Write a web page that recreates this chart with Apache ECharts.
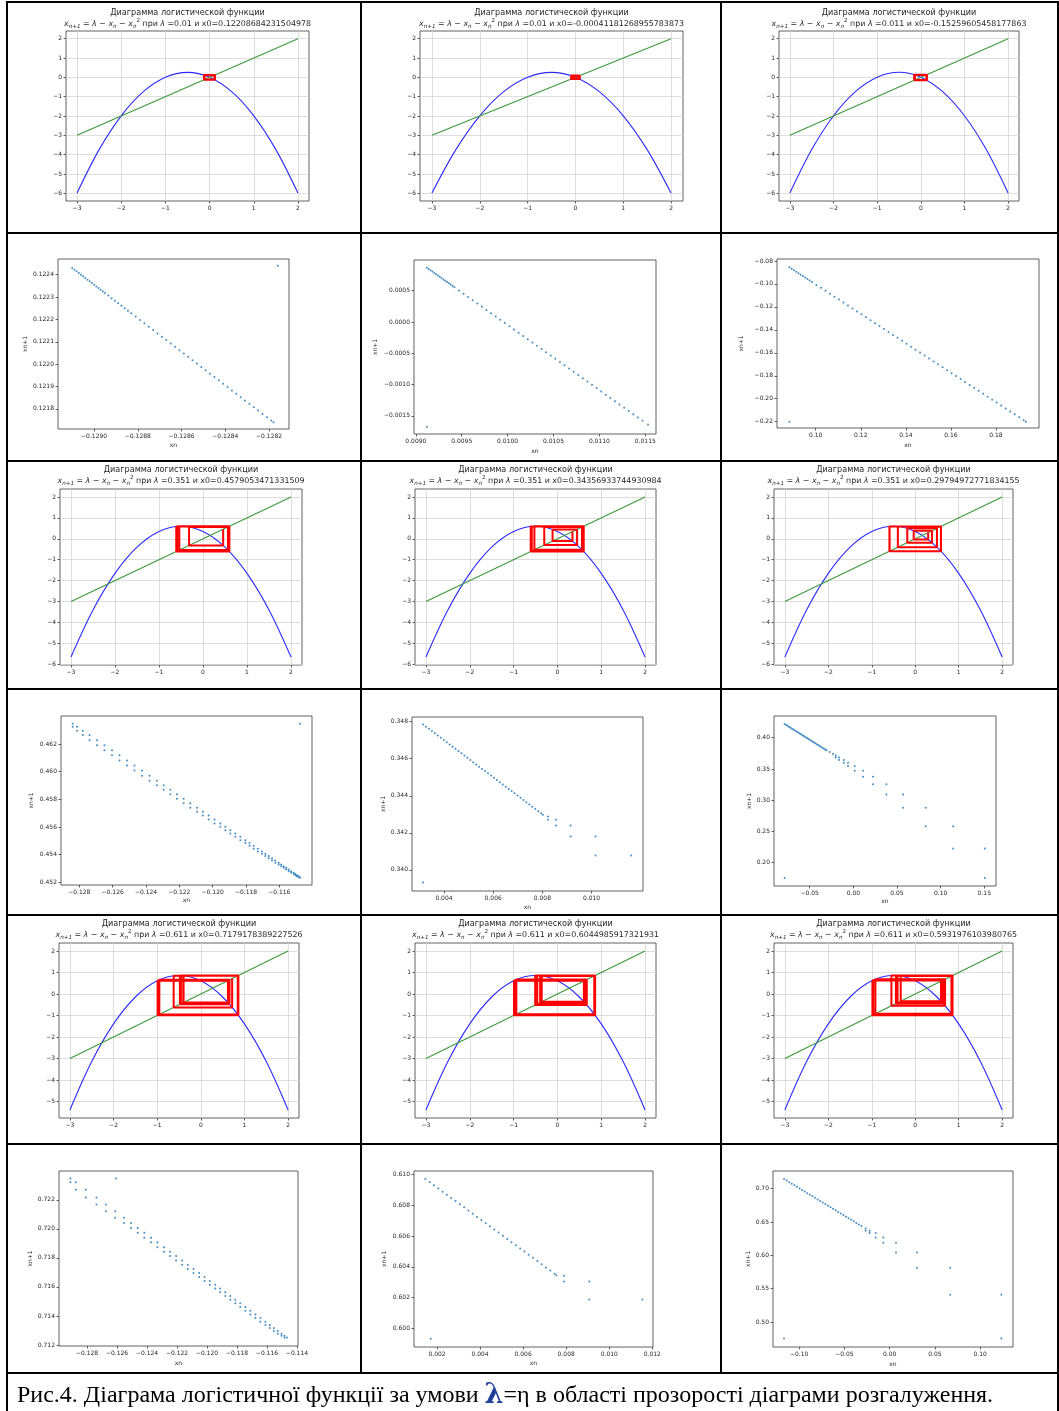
<!DOCTYPE html>
<html>
<head>
<meta charset="utf-8">
<script src="https://cdn.jsdelivr.net/npm/echarts@6/dist/echarts.min.js"></script>
<style>
  html, body { margin: 0; padding: 0; background: #fff; }
  #main { width: 1059px; height: 1411px; }
</style>
</head>
<body>
<div id="main"></div>
<script>
// ---- parabola panels: y = λ - x - x², diagonal y = x, cobweb orbits ----
const parabolaX = [-3, -2.5, -2, -1.5, -1, -0.5, 0, 0.5, 1, 1.5, 2];
const curveL001  = [-5.99, -3.74, -1.99, -0.74, 0.01, 0.26, 0.01, -0.74, -1.99, -3.74, -5.99];
const curveL0011 = [-5.989, -3.739, -1.989, -0.739, 0.011, 0.261, 0.011, -0.739, -1.989, -3.739, -5.989];
const curveL0351 = [-5.649, -3.399, -1.649, -0.399, 0.351, 0.601, 0.351, -0.399, -1.649, -3.399, -5.649];
const curveL0611 = [-5.389, -3.139, -1.389, -0.139, 0.611, 0.861, 0.611, -0.139, -1.389, -3.139, -5.389];
const diagonalX = [-3, 2];

const orbitA = [0.12209, -0.12700, 0.12087, -0.12548, 0.11974, -0.12408, 0.11868, -0.12277, 0.11770, -0.12155, 0.11678, -0.12042, 0.11592, -0.11936, 0.11511, -0.11836, 0.11435, -0.11743, 0.11364, -0.11655, 0.11297];
const orbitB = [-0.00041, 0.01041, -0.00090, 0.01090, -0.00300, 0.01300, -0.01000, 0.02000, -0.03000, 0.04000, -0.05500, 0.06500, -0.07500, 0.08500, -0.08800, 0.09200, -0.09000, 0.09300];
const orbitC = [-0.15260, 0.14031, -0.14900, 0.13780, -0.14579, 0.13554, -0.14291, 0.13349, -0.14031, 0.13162, -0.13794, 0.12991, -0.13579, 0.12835, -0.13382];
const orbitD = [0.45791, -0.31657, 0.56735, -0.53824, 0.59954, -0.60799, 0.58934, -0.58566, 0.59366, -0.59509, 0.59196, -0.59138];
const orbitE = [0.34357, -0.11061, 0.44938, -0.30032, 0.56113, -0.52500, 0.60037, -0.60981, 0.58894, -0.58479, 0.59381, -0.59542, 0.59190];
const orbitF = [0.29795, -0.03572, 0.38545, -0.18302, 0.50052, -0.40004, 0.59101, -0.58930, 0.59303, -0.59371, 0.59222, -0.59194];
const orbitG = [0.71792, -0.62233, 0.84604, -0.95082, 0.65776, -0.47941, 0.86058, -0.99018, 0.62072, -0.39501, 0.84998, -0.96145, 0.64806, -0.45704, 0.85915, -0.98629, 0.62452, -0.40354, 0.85170, -0.96609, 0.64376];
const orbitH = [0.60450, -0.35892, 0.84110, -0.93755, 0.66955, -0.50685, 0.86095, -0.99118, 0.61974, -0.39282, 0.84951, -0.96018, 0.64923, -0.45973, 0.85938, -0.98691, 0.62392];
const orbitI = [0.59320, -0.33409, 0.83347, -0.91714, 0.68699, -0.54795, 0.85870, -0.98507, 0.62571, -0.40622, 0.85221, -0.96747, 0.64247, -0.44424, 0.85789, -0.98287, 0.62784];

const ticksX  = [-3, -2, -1, 0, 1, 2];
const ticksY8 = [-6, -5, -4, -3, -2, -1, 0, 1, 2];
const ticksY7 = [-5, -4, -3, -2, -1, 0, 1, 2];

// ---- scatter panels: x(n+1) against x(n) ----
const s1X = [-0.129100, -0.129090, -0.129080, -0.129070, -0.129060, -0.129050, -0.129040, -0.129030, -0.129020, -0.129010, -0.129000, -0.128990, -0.128980, -0.128970, -0.128960, -0.128950, -0.128935, -0.128920, -0.128905, -0.128890, -0.128875, -0.128860, -0.128845, -0.128830, -0.128810, -0.128790, -0.128770, -0.128750, -0.128730, -0.128710, -0.128690, -0.128670, -0.128650, -0.128630, -0.128610, -0.128590, -0.128570, -0.128550, -0.128530, -0.128510, -0.128490, -0.128470, -0.128450, -0.128430, -0.128410, -0.128390, -0.128370, -0.128350, -0.128330, -0.128310, -0.128290, -0.128270, -0.128250, -0.128230, -0.128210, -0.128190, -0.128180, -0.128160];
const s1Y = [0.1224300, 0.1224225, 0.1224150, 0.1224075, 0.1224000, 0.1223925, 0.1223850, 0.1223775, 0.1223700, 0.1223625, 0.1223550, 0.1223475, 0.1223400, 0.1223325, 0.1223250, 0.1223175, 0.1223063, 0.1222950, 0.1222838, 0.1222725, 0.1222613, 0.1222500, 0.1222388, 0.1222275, 0.1222125, 0.1221975, 0.1221825, 0.1221675, 0.1221525, 0.1221375, 0.1221225, 0.1221075, 0.1220925, 0.1220775, 0.1220625, 0.1220475, 0.1220325, 0.1220175, 0.1220025, 0.1219875, 0.1219725, 0.1219575, 0.1219425, 0.1219275, 0.1219125, 0.1218975, 0.1218825, 0.1218675, 0.1218525, 0.1218375, 0.1218225, 0.1218075, 0.1217925, 0.1217775, 0.1217625, 0.1217475, 0.1217400, 0.1224400];
const s1XTicks = [-0.1290, -0.1288, -0.1286, -0.1284, -0.1282];
const s1YTicks = [0.1218, 0.1219, 0.1220, 0.1221, 0.1222, 0.1223, 0.1224];

const s2X = [0.00912, 0.00914, 0.00916, 0.00918, 0.00920, 0.00922, 0.00924, 0.00926, 0.00928, 0.00930, 0.00932, 0.00934, 0.00936, 0.00938, 0.00940, 0.00942, 0.00947, 0.00952, 0.00957, 0.00962, 0.00967, 0.00972, 0.00977, 0.00982, 0.00987, 0.00992, 0.00997, 0.01002, 0.01007, 0.01012, 0.01017, 0.01022, 0.01027, 0.01032, 0.01037, 0.01042, 0.01047, 0.01052, 0.01057, 0.01062, 0.01067, 0.01072, 0.01077, 0.01082, 0.01087, 0.01092, 0.01097, 0.01102, 0.01107, 0.01112, 0.01117, 0.01122, 0.01127, 0.01132, 0.01137, 0.01142, 0.01147, 0.01153, 0.00912];
const s2Y = [0.000867, 0.000846, 0.000825, 0.000805, 0.000784, 0.000763, 0.000742, 0.000721, 0.000701, 0.000680, 0.000659, 0.000638, 0.000617, 0.000597, 0.000576, 0.000555, 0.000503, 0.000451, 0.000399, 0.000347, 0.000295, 0.000243, 0.000191, 0.000139, 0.000087, 0.000035, -0.000017, -0.000069, -0.000121, -0.000173, -0.000225, -0.000277, -0.000329, -0.000381, -0.000433, -0.000485, -0.000537, -0.000589, -0.000641, -0.000693, -0.000745, -0.000797, -0.000849, -0.000901, -0.000953, -0.001005, -0.001057, -0.001109, -0.001161, -0.001213, -0.001265, -0.001317, -0.001369, -0.001421, -0.001473, -0.001525, -0.001577, -0.001640, -0.001680];
const s2XTicks = [0.0090, 0.0095, 0.0100, 0.0105, 0.0110, 0.0115];
const s2YTicks = [-0.0015, -0.0010, -0.0005, 0.0000, 0.0005];

const s3X = [0.0883, 0.0893, 0.0903, 0.0913, 0.0923, 0.0933, 0.0943, 0.0953, 0.0963, 0.0973, 0.0983, 0.1003, 0.1023, 0.1043, 0.1063, 0.1083, 0.1103, 0.1123, 0.1143, 0.1163, 0.1183, 0.1203, 0.1223, 0.1243, 0.1263, 0.1283, 0.1303, 0.1323, 0.1343, 0.1363, 0.1383, 0.1403, 0.1423, 0.1443, 0.1463, 0.1483, 0.1503, 0.1523, 0.1543, 0.1563, 0.1583, 0.1603, 0.1623, 0.1643, 0.1663, 0.1683, 0.1703, 0.1723, 0.1743, 0.1763, 0.1783, 0.1803, 0.1823, 0.1843, 0.1863, 0.1883, 0.1903, 0.1923, 0.1933, 0.0883];
const s3Y = [-0.0855, -0.08678, -0.08806, -0.08934, -0.09062, -0.09191, -0.09319, -0.09447, -0.09575, -0.09703, -0.09831, -0.10087, -0.10343, -0.10600, -0.10856, -0.11112, -0.11368, -0.11624, -0.11881, -0.12137, -0.12393, -0.12649, -0.12905, -0.13162, -0.13418, -0.13674, -0.13930, -0.14186, -0.14443, -0.14699, -0.14955, -0.15211, -0.15467, -0.15724, -0.15980, -0.16236, -0.16492, -0.16748, -0.17005, -0.17261, -0.17517, -0.17773, -0.18029, -0.18286, -0.18542, -0.18798, -0.19054, -0.19310, -0.19567, -0.19823, -0.20079, -0.20335, -0.20591, -0.20848, -0.21104, -0.21360, -0.21616, -0.21872, -0.22000, -0.22000];
const s3XTicks = [0.10, 0.12, 0.14, 0.16, 0.18];
const s3YTicks = [-0.22, -0.20, -0.18, -0.16, -0.14, -0.12, -0.10, -0.08];

// staircase columns (each column: its own value and the next one)
const s4ColX = [-0.12840, -0.12814, -0.12779, -0.12739, -0.12694, -0.12649, -0.12604, -0.12559, -0.12514, -0.12469, -0.12424, -0.12379, -0.12334, -0.12294, -0.12254, -0.12214, -0.12174, -0.12134, -0.12094, -0.12059, -0.12024, -0.11989, -0.11954, -0.11924, -0.11894, -0.11864, -0.11834, -0.11804, -0.11779, -0.11754, -0.11729, -0.11704, -0.11684, -0.11664, -0.11644, -0.11624, -0.11604, -0.11589, -0.11574, -0.11559, -0.11544, -0.11529, -0.11514, -0.11504, -0.11494, -0.11484, -0.11474];
const s4ColY = [0.46346, 0.46325, 0.46296, 0.46264, 0.46227, 0.46191, 0.46154, 0.46118, 0.46081, 0.46045, 0.46008, 0.45971, 0.45935, 0.45902, 0.45870, 0.45837, 0.45805, 0.45772, 0.45740, 0.45711, 0.45683, 0.45654, 0.45626, 0.45602, 0.45577, 0.45553, 0.45529, 0.45504, 0.45484, 0.45464, 0.45443, 0.45423, 0.45407, 0.45390, 0.45374, 0.45358, 0.45342, 0.45329, 0.45317, 0.45305, 0.45293, 0.45281, 0.45269, 0.45260, 0.45252, 0.45244, 0.45236];
const s4Extra = [[-0.11476, 0.46346]];
const s4XTicks = [-0.128, -0.126, -0.124, -0.122, -0.120, -0.118, -0.116, -0.114];
const s4YTicks = [0.452, 0.454, 0.456, 0.458, 0.460, 0.462];

const s5X = [0.00315, 0.00327, 0.00339, 0.00351, 0.00363, 0.00375, 0.00387, 0.00399, 0.00411, 0.00423, 0.00435, 0.00447, 0.00459, 0.00471, 0.00483, 0.00495, 0.00507, 0.00519, 0.00531, 0.00543, 0.00555, 0.00567, 0.00579, 0.00591, 0.00603, 0.00615, 0.00627, 0.00639, 0.00651, 0.00663, 0.00675, 0.00687, 0.00699, 0.00711, 0.00723, 0.00735, 0.00747, 0.00759, 0.00771, 0.00783, 0.00795, 0.00802, 0.00823, 0.00823, 0.00856, 0.00856, 0.00915, 0.00915, 0.01016, 0.01016, 0.01161, 0.00315];
const s5Y = [0.34785, 0.34773, 0.34761, 0.34749, 0.34737, 0.34725, 0.34713, 0.34701, 0.34689, 0.34677, 0.34665, 0.34653, 0.34641, 0.34629, 0.34617, 0.34605, 0.34593, 0.34581, 0.34569, 0.34557, 0.34545, 0.34533, 0.34521, 0.34509, 0.34497, 0.34485, 0.34473, 0.34461, 0.34449, 0.34437, 0.34425, 0.34413, 0.34401, 0.34389, 0.34377, 0.34365, 0.34353, 0.34341, 0.34329, 0.34317, 0.34305, 0.34298, 0.34288, 0.34270, 0.34270, 0.34240, 0.34240, 0.34180, 0.34180, 0.34078, 0.34078, 0.33932];
const s5XTicks = [0.004, 0.006, 0.008, 0.010];
const s5YTicks = [0.340, 0.342, 0.344, 0.346, 0.348];

const s6X = [-0.0787, -0.0771, -0.0755, -0.0739, -0.0723, -0.0707, -0.0691, -0.0675, -0.0659, -0.0643, -0.0627, -0.0611, -0.0595, -0.0579, -0.0563, -0.0547, -0.0531, -0.0515, -0.0499, -0.0483, -0.0467, -0.0451, -0.0435, -0.0419, -0.0403, -0.0387, -0.0371, -0.0355, -0.0339, -0.0323, -0.0307, -0.0271, -0.0233, -0.0202, -0.0202, -0.0164, -0.0164, -0.0110, -0.0110, -0.0061, -0.0061, 0.0016, 0.0016, 0.0111, 0.0111, 0.0226, 0.0226, 0.0379, 0.0379, 0.0570, 0.0570, 0.0829, 0.0829, 0.1143, 0.1143, 0.1506, 0.1506, -0.0787];
const s6Y = [0.4219, 0.4205, 0.4191, 0.4177, 0.4163, 0.4149, 0.4135, 0.4121, 0.4107, 0.4093, 0.4079, 0.4065, 0.4051, 0.4037, 0.4023, 0.4009, 0.3995, 0.3981, 0.3967, 0.3953, 0.3939, 0.3925, 0.3911, 0.3897, 0.3883, 0.3869, 0.3855, 0.3841, 0.3827, 0.3813, 0.3799, 0.3770, 0.3738, 0.3716, 0.3684, 0.3684, 0.3642, 0.3642, 0.3599, 0.3599, 0.3546, 0.3546, 0.3471, 0.3471, 0.3374, 0.3374, 0.3257, 0.3257, 0.3091, 0.3091, 0.2877, 0.2877, 0.2583, 0.2583, 0.2225, 0.2225, 0.1754, 0.1754];
const s6XTicks = [-0.05, 0.00, 0.05, 0.10, 0.15];
const s6YTicks = [0.20, 0.25, 0.30, 0.35, 0.40];

const s7ColX = [-0.12911, -0.12875, -0.12808, -0.12737, -0.12674, -0.12612, -0.12554, -0.12507, -0.12462, -0.12418, -0.12373, -0.12331, -0.12286, -0.12246, -0.12206, -0.12166, -0.12128, -0.12090, -0.12052, -0.12016, -0.11981, -0.11945, -0.11912, -0.11878, -0.11845, -0.11811, -0.11778, -0.11744, -0.11711, -0.11677, -0.11644, -0.11610, -0.11581, -0.11554, -0.11528, -0.11503, -0.11483, -0.11467];
const s7ColY = [0.72347, 0.72320, 0.72269, 0.72215, 0.72167, 0.72120, 0.72076, 0.72040, 0.72006, 0.71973, 0.71939, 0.71907, 0.71873, 0.71842, 0.71812, 0.71782, 0.71753, 0.71724, 0.71695, 0.71668, 0.71641, 0.71614, 0.71589, 0.71563, 0.71538, 0.71512, 0.71487, 0.71461, 0.71436, 0.71410, 0.71385, 0.71360, 0.71338, 0.71317, 0.71297, 0.71278, 0.71263, 0.71251];
const s7Extra = [[-0.12608, 0.72347]];
const s7XTicks = [-0.128, -0.126, -0.124, -0.122, -0.120, -0.118, -0.116, -0.114];
const s7YTicks = [0.712, 0.714, 0.716, 0.718, 0.720, 0.722];

const s8X = [0.00146, 0.00166, 0.00186, 0.00206, 0.00226, 0.00246, 0.00266, 0.00286, 0.00306, 0.00326, 0.00346, 0.00366, 0.00386, 0.00406, 0.00426, 0.00446, 0.00466, 0.00486, 0.00506, 0.00526, 0.00546, 0.00566, 0.00586, 0.00606, 0.00626, 0.00646, 0.00666, 0.00686, 0.00706, 0.00726, 0.00746, 0.00754, 0.00790, 0.00790, 0.00907, 0.00907, 0.01154, 0.00171];
const s8Y = [0.60970, 0.60950, 0.60929, 0.60909, 0.60888, 0.60868, 0.60847, 0.60827, 0.60806, 0.60786, 0.60765, 0.60745, 0.60724, 0.60704, 0.60683, 0.60663, 0.60642, 0.60622, 0.60601, 0.60581, 0.60560, 0.60540, 0.60519, 0.60499, 0.60478, 0.60458, 0.60437, 0.60417, 0.60396, 0.60376, 0.60355, 0.60345, 0.60341, 0.60304, 0.60304, 0.60187, 0.60187, 0.59933];
const s8XTicks = [0.002, 0.004, 0.006, 0.008, 0.010, 0.012];
const s8YTicks = [0.600, 0.602, 0.604, 0.606, 0.608, 0.610];

const s9X = [-0.11660, -0.11375, -0.11090, -0.10805, -0.10520, -0.10235, -0.09950, -0.09665, -0.09380, -0.09095, -0.08810, -0.08525, -0.08240, -0.07955, -0.07670, -0.07385, -0.07100, -0.06815, -0.06530, -0.06245, -0.05960, -0.05675, -0.05390, -0.05105, -0.04820, -0.04535, -0.04250, -0.03965, -0.03680, -0.03395, -0.03110, -0.02657, -0.02657, -0.02214, -0.02214, -0.01550, -0.01550, -0.00701, -0.00701, 0.00701, 0.00701, 0.03025, 0.03025, 0.06679, 0.06679, 0.12325, 0.12325, -0.11661];
const s9Y = [0.71454, 0.71219, 0.70983, 0.70748, 0.70513, 0.70278, 0.70042, 0.69807, 0.69572, 0.69336, 0.69101, 0.68866, 0.68630, 0.68395, 0.68160, 0.67925, 0.67689, 0.67454, 0.67219, 0.66983, 0.66748, 0.66513, 0.66277, 0.66042, 0.65807, 0.65572, 0.65336, 0.65101, 0.64866, 0.64630, 0.64395, 0.64038, 0.63687, 0.63687, 0.63336, 0.63336, 0.62685, 0.62685, 0.61883, 0.61883, 0.60431, 0.60431, 0.58127, 0.58127, 0.54070, 0.54070, 0.47508, 0.47508];
const s9XTicks = [-0.10, -0.05, 0.00, 0.05, 0.10];
const s9YTicks = [0.50, 0.55, 0.60, 0.65, 0.70];

// ---------------------------------------------------------------------
const zip = (xs, ys) => xs.map((x, i) => [x, ys[i]]);
function staircase(cx, cy, extra) {
  const pts = [];
  cx.forEach((x, i) => {
    pts.push([x, cy[i]]);
    if (i + 1 < cy.length) pts.push([x, cy[i + 1]]);
  });
  return pts.concat(extra);
}
function cobweb(orbit) {
  const pts = [[orbit[0], orbit[0]]];
  for (let i = 0; i + 1 < orbit.length; i++) {
    pts.push([orbit[i], orbit[i + 1]]);
    pts.push([orbit[i + 1], orbit[i + 1]]);
  }
  return pts;
}
function fmt(dec) {
  return v => {
    const s = Math.abs(v).toFixed(dec);
    return (v < 0 && Number(s) !== 0 ? '\u2212' : '') + s;
  };
}

const FONT = 'DejaVu Sans';
const TXT = '#262626';

const parabolaPanels = [
  { frame: [66, 31, 309, 201],   yr: [-6.4, 2.4],  yt: ticksY8, curve: curveL001,  orbit: orbitA, lam: '0.01',  x0: '0.12208684231504978', ty: 13 },
  { frame: [420, 31, 683, 201],  yr: [-6.4, 2.4],  yt: ticksY8, curve: curveL001,  orbit: orbitB, lam: '0.01',  x0: '-0.00041181268955783873', ty: 13 },
  { frame: [779, 31, 1019, 201], yr: [-6.4, 2.4],  yt: ticksY8, curve: curveL0011, orbit: orbitC, lam: '0.011', x0: '-0.15259605458177863', ty: 13 },
  { frame: [60, 489, 302, 665],  yr: [-6.03, 2.38], yt: ticksY8, curve: curveL0351, orbit: orbitD, lam: '0.351', x0: '0.4579053471331509', ty: 470 },
  { frame: [415, 489, 656, 665], yr: [-6.03, 2.38], yt: ticksY8, curve: curveL0351, orbit: orbitE, lam: '0.351', x0: '0.34356933744930984', ty: 470 },
  { frame: [774, 489, 1013, 665], yr: [-6.03, 2.38], yt: ticksY8, curve: curveL0351, orbit: orbitF, lam: '0.351', x0: '0.29794972771834155', ty: 470 },
  { frame: [59, 943, 299, 1118],  yr: [-5.76, 2.37], yt: ticksY7, curve: curveL0611, orbit: orbitG, lam: '0.611', x0: '0.7179178389227526', ty: 924 },
  { frame: [415, 943, 656, 1118], yr: [-5.76, 2.37], yt: ticksY7, curve: curveL0611, orbit: orbitH, lam: '0.611', x0: '0.6044985917321931', ty: 924 },
  { frame: [774, 943, 1013, 1118], yr: [-5.76, 2.37], yt: ticksY7, curve: curveL0611, orbit: orbitI, lam: '0.611', x0: '0.5931976103980765', ty: 924 }
];

const scatterPanels = [
  { frame: [58, 259, 289, 429],   xr: [-0.129165, -0.128109], yr: [0.12171, 0.12247], xt: s1XTicks, yt: s1YTicks, d: [4, 4], pts: zip(s1X, s1Y), xg: 13, yg: 30 },
  { frame: [414, 260, 656, 434],  xr: [0.00898, 0.011617],    yr: [-0.00179, 0.00099], xt: s2XTicks, yt: s2YTicks, d: [4, 4], pts: zip(s2X, s2Y), xg: 14, yg: 36 },
  { frame: [777, 259, 1039, 428], xr: [0.0828, 0.1991],       yr: [-0.2255, -0.0783], xt: s3XTicks, yt: s3YTicks, d: [2, 2], pts: zip(s3X, s3Y), xg: 14, yg: 33 },
  { frame: [61, 716, 312, 885],   xr: [-0.12910, -0.11404],   yr: [0.45181, 0.46402], xt: s4XTicks, yt: s4YTicks, d: [3, 3], pts: staircase(s4ColX, s4ColY, s4Extra), xg: 12, yg: 27 },
  { frame: [412, 717, 643, 891],  xr: [0.0027, 0.01209],      yr: [0.33886, 0.34825], xt: s5XTicks, yt: s5YTicks, d: [3, 3], pts: zip(s5X, s5Y), xg: 13, yg: 26 },
  { frame: [774, 716, 996, 886],  xr: [-0.0909, 0.1634],      yr: [0.1626, 0.4348],   xt: s6XTicks, yt: s6YTicks, d: [2, 2], pts: zip(s6X, s6Y), xg: 12, yg: 20 },
  { frame: [59, 1171, 298, 1346], xr: [-0.12987, -0.11393],   yr: [0.71193, 0.72398], xt: s7XTicks, yt: s7YTicks, d: [3, 3], pts: staircase(s7ColX, s7ColY, s7Extra), xg: 14, yg: 26 },
  { frame: [414, 1171, 653, 1347], xr: [0.000932, 0.01203],   yr: [0.59879, 0.61022], xt: s8XTicks, yt: s8YTicks, d: [3, 3], pts: zip(s8X, s8Y), xg: 13, yg: 27 },
  { frame: [773, 1171, 1013, 1347], xr: [-0.12878, 0.13616],  yr: [0.46241, 0.72657], xt: s9XTicks, yt: s9YTicks, d: [2, 2], pts: zip(s9X, s9Y), xg: 14, yg: 22 }
];

const grids = [], xAxes = [], yAxes = [], series = [], graphics = [];

function addGrid(f) {
  grids.push({
    left: f[0], top: f[1], width: f[2] - f[0], height: f[3] - f[1],
    show: true, borderColor: '#3a3a3a', borderWidth: 0.8, backgroundColor: 'transparent'
  });
  return grids.length - 1;
}
function axis(gi, range, ticks, formatter, grid, extra) {
  return Object.assign({
    gridIndex: gi, type: 'value', min: range[0], max: range[1],
    axisLine: { show: false, onZero: false },
    axisTick: { show: true, customValues: ticks, length: 2.5, lineStyle: { color: '#3a3a3a', width: 0.8 } },
    axisLabel: { customValues: ticks, fontSize: 6, fontFamily: FONT, color: TXT, margin: 4, formatter: formatter },
    splitLine: { show: grid, lineStyle: { color: '#d6d6d6', width: 0.8 } }
  }, extra || {});
}

const plain = v => (v < 0 ? '\u2212' + Math.abs(v) : String(v));

parabolaPanels.forEach(p => {
  const gi = addGrid(p.frame);
  xAxes.push(axis(gi, [-3.25, 2.25], ticksX, plain, true));
  yAxes.push(axis(gi, p.yr, p.yt, plain, true));
  series.push({
    type: 'line', xAxisIndex: gi, yAxisIndex: gi, data: zip(parabolaX, p.curve),
    smooth: 0.35, showSymbol: false, symbol: 'none', silent: true,
    lineStyle: { color: '#2b2bff', width: 1.1 }
  });
  series.push({
    type: 'line', xAxisIndex: gi, yAxisIndex: gi, data: zip(diagonalX, diagonalX),
    showSymbol: false, symbol: 'none', silent: true,
    lineStyle: { color: '#3c9a3c', width: 1.1 }
  });
  series.push({
    type: 'line', xAxisIndex: gi, yAxisIndex: gi, data: cobweb(p.orbit),
    showSymbol: false, symbol: 'none', silent: true,
    lineStyle: { color: '#ff0000', width: 2 }
  });
  const cx = (p.frame[0] + p.frame[2]) / 2;
  graphics.push({
    type: 'text', x: cx, y: p.ty, silent: true,
    style: { text: 'Диаграмма логистической функции', fontSize: 8.1, fontFamily: FONT, fill: TXT,
             textAlign: 'center', textVerticalAlign: 'middle' }
  });
  graphics.push({
    type: 'text', x: cx, y: p.ty + 11, silent: true,
    style: {
      text: '{i|x}{s|n+1}{t| = }{i|λ}{t| − }{i|x}{s|n}{t| − }{i|x}{s|n}{u|2}{t| при }{i|λ}{t| =' + p.lam + ' и x0=' + p.x0 + '}',
      textAlign: 'center', textVerticalAlign: 'middle',
      rich: {
        t: { fontSize: 7.9, fontFamily: FONT, fill: TXT, lineHeight: 12 },
        i: { fontSize: 7.9, fontFamily: FONT, fontStyle: 'italic', fill: TXT, lineHeight: 12 },
        s: { fontSize: 5.6, fontFamily: FONT, fontStyle: 'italic', fill: TXT, verticalAlign: 'bottom', lineHeight: 12 },
        u: { fontSize: 5.6, fontFamily: FONT, fill: TXT, verticalAlign: 'top', lineHeight: 12 }
      }
    }
  });
});

scatterPanels.forEach(p => {
  const gi = addGrid(p.frame);
  const nameStyle = { fontSize: 6, fontFamily: FONT, color: TXT };
  xAxes.push(axis(gi, p.xr, p.xt, fmt(p.d[0]), false,
    { name: 'xn', nameLocation: 'middle', nameGap: p.xg, nameTextStyle: nameStyle }));
  yAxes.push(axis(gi, p.yr, p.yt, fmt(p.d[1]), false,
    { name: 'xn+1', nameLocation: 'middle', nameGap: p.yg, nameRotate: 90, nameTextStyle: nameStyle }));
  series.push({
    type: 'scatter', xAxisIndex: gi, yAxisIndex: gi, data: p.pts,
    symbolSize: 2, silent: true, itemStyle: { color: '#2f7fc0', opacity: 0.9 }
  });
});

// table borders
const vLines = [7, 361, 721, 1058];
const hLines = [2, 233, 461, 689, 915, 1144, 1373];
vLines.forEach(x => graphics.push({
  type: 'line', silent: true, shape: { x1: x, y1: 1, x2: x, y2: (x === 7 || x === 1058) ? 1411 : 1373 },
  style: { stroke: '#000', lineWidth: 2 }
}));
hLines.forEach(y => graphics.push({
  type: 'line', silent: true, shape: { x1: 6, y1: y, x2: 1059, y2: y },
  style: { stroke: '#000', lineWidth: 2 }
}));

// caption
graphics.push({
  type: 'text', x: 17, y: 1396, silent: true,
  style: {
    text: '{a|Рис.4. Діаграма логістичної функції за умови }{b|λ}{a|=η в області прозорості діаграми розгалуження.}',
    textVerticalAlign: 'middle',
    rich: {
      a: { fontSize: 24, fontFamily: 'Liberation Serif', fill: '#000' },
      b: { fontSize: 27, fontFamily: 'DejaVu Serif', fontWeight: 'bold', fill: '#1f3f99' }
    }
  }
});

const chart = echarts.init(document.getElementById('main'), null, { renderer: 'canvas' });
chart.setOption({
  animation: false,
  backgroundColor: '#fff',
  grid: grids,
  xAxis: xAxes,
  yAxis: yAxes,
  series: series,
  graphic: graphics
});
</script>
</body>
</html>
